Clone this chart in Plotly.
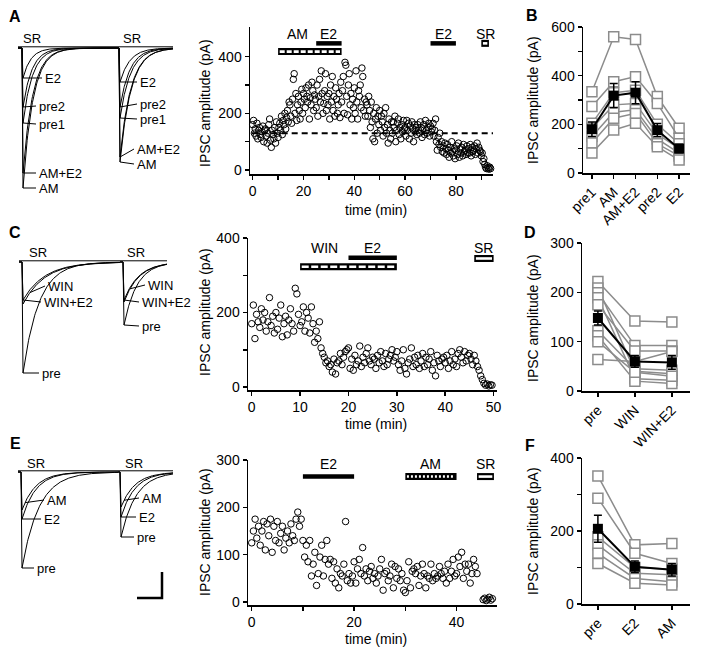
import numpy as np
import plotly.graph_objects as go

W, H = 701, 655
FONT = "Liberation Sans, Arial, Helvetica, sans-serif"

# ---------------- time-course data (pA), 3 samples per minute ----------------
a_step = 1 / 3
a_vals = [
    160, 175, 130, 145, 120, 165, 110, 140, 150, 125, 115, 135, 155, 100, 140,
    145, 120, 95, 130, 160, 180, 105, 80, 140, 125, 110, 150, 95, 170, 130,
    115, 150, 165, 140, 190, 125, 175, 160, 200, 145, 185, 210, 170, 240, 230,
    190, 165, 250, 320, 340, 200, 270, 175, 230, 260, 210, 180, 240, 285, 200,
    270, 250, 220, 290, 260, 240, 300, 180, 255, 230, 310, 280, 210, 265, 250,
    220, 300, 190, 260, 320, 240, 350, 270, 200, 235, 280, 340, 210, 260, 230,
    270, 180, 300, 240, 330, 210, 260, 190, 290, 250, 200, 230, 270, 185, 310,
    240, 280, 330, 200, 380, 370, 260, 195, 300, 340, 230, 270, 180, 250, 220,
    290, 200, 350, 240, 180, 280, 260, 300, 220, 360, 330, 210, 250, 190, 240,
    230, 190, 260, 210, 150, 240, 170, 110, 200, 100, 180, 220, 130, 190, 160,
    210, 140, 190, 170, 120, 200, 150, 220, 130, 160, 95, 180, 140, 110, 170,
    130, 170, 150, 190, 100, 140, 165, 180, 125, 150, 110, 160, 135, 175, 145,
    150, 120, 175, 140, 165, 110, 155, 130, 170, 145, 100, 160, 135, 150, 125,
    160, 140, 130, 170, 150, 115, 145, 160, 125, 175, 140, 130, 150, 165, 120,
    155, 135, 145, 165, 120, 140, 180, 100, 70, 115, 90, 130, 80, 100, 65,
    85, 60, 95, 75, 55, 90, 70, 45, 80, 60, 100, 65, 50, 75, 40,
    70, 85, 55, 95, 45, 75, 60, 80, 50, 90, 65, 70, 55, 85, 60,
    75, 60, 90, 50, 80, 65, 70, 85, 55, 75, 95, 60, 80, 70, 65,
    50, 60, 30, 40, 20, 10, 5, 15, 8, 3, 10, 5,
]
a_baseline = 130

c_step = 1 / 3
c_vals = [
    170, 220, 130, 195, 175, 160, 210, 180, 200, 150, 175, 240, 165, 190, 145,
    200, 155, 185, 220, 135, 170, 190, 140, 180, 210, 170, 150, 265, 250, 195,
    165, 175, 215, 150, 200, 185, 145, 215, 170, 120, 150, 130, 175, 105, 90,
    80, 65, 70, 55, 60, 40, 75, 35, 65, 70, 90, 60, 80, 95, 100,
    105, 50, 75, 45, 85, 60, 70, 110, 55, 80, 65, 90, 105, 70, 60,
    80, 75, 50, 85, 65, 95, 70, 55, 90, 60, 75, 85, 100, 70, 80,
    95, 60, 45, 70, 100, 50, 35, 65, 75, 105, 55, 80, 60, 85, 50,
    70, 90, 55, 80, 60, 75, 95, 45, 65, 30, 85, 70, 55, 75, 80,
    65, 85, 50, 70, 95, 60, 75, 55, 90, 100, 80, 65, 95, 70, 85,
    90, 75, 60, 85, 70, 55, 45, 30, 20, 10, 5, 8, 3, 6, 5,
]

e_step = 1 / 3
e_vals = [
    125, 150, 175, 135, 160, 120, 150, 170, 110, 165, 140, 175, 105, 160, 130,
    170, 125, 145, 160, 110, 135, 150, 125, 165, 140, 130, 175, 190, 160, 175,
    130, 95, 120, 85, 130, 55, 80, 105, 35, 60, 95, 120, 55, 90, 130,
    80, 90, 50, 85, 40, 70, 30, 60, 55, 80, 170, 45, 60, 40, 55,
    85, 40, 70, 90, 60, 115, 55, 70, 45, 65, 75, 50, 60, 40, 55,
    70, 90, 25, 60, 65, 45, 55, 80, 30, 75, 50, 70, 45, 60, 25,
    20, 45, 85, 30, 65, 70, 60, 75, 35, 55, 80, 60, 30, 55, 50,
    80, 45, 60, 50, 55, 75, 60, 50, 65, 40, 80, 50, 65, 90, 55,
    60, 95, 75, 105, 50, 80, 65, 80, 40, 60, 90, 75, 60,
]
e_sr_time = [45.2, 45.5, 45.8, 46.1, 46.4, 46.7, 47.0]
e_sr_vals = [5, 8, 3, 6, 10, 4, 7]

# ---------------- drug application bars (min, pA) ----------------
a_bar_kind = ["hatched", "filled", "filled", "open"]
a_bar_start = [10, 25, 70, 90]
a_bar_end = [35, 35, 80, 93]
a_bar_level = [418, 447, 447, 447]
a_lab_text = ["AM", "E2", "E2", "SR"]
a_lab_x = [17.5, 30, 75, 91.5]
a_lab_y = 480

c_bar_kind = ["hatched", "filled", "open"]
c_bar_start = [10, 20, 46]
c_bar_end = [30, 30, 50]
c_bar_level = [323, 347, 345]
c_lab_text = ["WIN", "E2", "SR"]
c_lab_x = [15, 25, 48]
c_lab_y = 373

e_bar_kind = ["filled", "dotted", "open"]
e_bar_start = [10, 30, 44]
e_bar_end = [20, 40, 47.3]
e_bar_level = [265, 265, 265]
e_lab_text = ["E2", "AM", "SR"]
e_lab_x = [15, 35, 45.6]
e_lab_y = 291

# ---------------- summary data (pA) ----------------
b_cats = ["pre1", "AM", "AM+E2", "pre2", "E2"]
b_cells = [
    [334, 560, 549, 314, 184],
    [273, 375, 396, 286, 143],
    [204, 330, 340, 200, 120],
    [184, 280, 286, 160, 100],
    [150, 250, 260, 140, 82],
    [123, 225, 245, 120, 70],
    [82, 177, 204, 108, 53],
]
b_mean = [180, 318, 330, 176, 100]
b_sem = [30, 50, 45, 27, 17]

d_cats = ["pre", "WIN", "WIN+E2"]
d_cells = [
    [222, 142, 140], [209, 40, 35], [199, 92, 92], [189, 25, 22], [175, 81, 81],
    [122, 45, 42], [112, 20, 15], [100, 38, 30], [64, 60, 80],
]
d_mean = [148, 60, 58]
d_sem = [14, 12, 14]

f_cats = ["pre", "E2", "AM"]
f_cells = [
    [351, 162, 166], [290, 139, 111], [184, 100, 95],
    [162, 84, 80], [139, 70, 61], [111, 57, 52],
]
f_mean = [206, 102, 94]
f_sem = [37, 16, 17]

# ---------------- example IPSC traces (display units) ----------------
a_tr_names = ["AM", "AM+E2", "pre1", "pre2", "E2"]
a_amp_left = [140, 125, 75, 59, 30]
a_tau_left = [10, 10, 9.5, 9, 8]
a_amp_right = [114, 109, 70, 59, 34]
a_tau_right = [11, 11, 10.5, 10, 10]

c_tr_names = ["pre", "WIN+E2", "WIN"]
c_amp_left = [111, 38, 42]
c_tau_left = [16, 22, 22]
c_amp_right = [63, 38, 40]
c_tau_right = [13, 15, 15]

e_tr_names = ["pre", "E2", "AM"]
e_amp_left = [96, 47, 38]
e_tau_left = [17, 14, 14]
e_amp_right = [65, 45, 35]
e_tau_right = [15, 14, 14]

# =====================================================================
fig = go.Figure()


def dom_x(a, b):
    return [a / W, b / W]


def dom_y(top, bottom):
    return [1 - bottom / H, 1 - top / H]


tickfont = dict(family=FONT, size=14, color="black")
ax_common = dict(showline=True, linecolor="black", linewidth=1.5, ticks="outside",
                 ticklen=4, tickwidth=1.5, tickcolor="black", showgrid=False,
                 zeroline=False, tickfont=tickfont, fixedrange=True, mirror=False,
                 automargin=False)
hidden = dict(visible=False, fixedrange=True, showgrid=False, zeroline=False,
              automargin=False)

layout = dict(
    width=W, height=H,
    margin=dict(l=0, r=0, t=0, b=0, pad=0, autoexpand=False),
    paper_bgcolor="white", plot_bgcolor="white", showlegend=False,
    font=dict(family=FONT, size=14, color="black"),
)

# trace panels (1 unit = 1 px)
layout["xaxis"] = dict(hidden, domain=dom_x(0, 182), range=[0, 182], anchor="y")
layout["yaxis"] = dict(hidden, domain=dom_y(0, 200), range=[-152, 48], anchor="x")
layout["xaxis4"] = dict(hidden, domain=dom_x(0, 182), range=[0, 182], anchor="y4")
layout["yaxis4"] = dict(hidden, domain=dom_y(205, 420), range=[-158, 57], anchor="x4")
layout["xaxis7"] = dict(hidden, domain=dom_x(0, 182), range=[0, 182], anchor="y7")
layout["yaxis7"] = dict(hidden, domain=dom_y(430, 640), range=[-168, 42], anchor="x7")

# time-course axes
minor_style = dict(ticks="outside", ticklen=4, tickwidth=1.5, tickcolor="black")
layout["xaxis2"] = dict(ax_common, domain=dom_x(250, 493), range=[-1.06, 94.6],
                        tickvals=[0, 20, 40, 60, 80], anchor="y2",
                        minor=dict(minor_style, tickvals=[10, 30, 50, 70, 90]))
layout["yaxis2"] = dict(ax_common, domain=dom_y(27, 174), range=[-14.1, 504.8],
                        tickvals=[0, 200, 400], anchor="x2",
                        minor=dict(minor_style, tickvals=[100, 300]))
layout["xaxis5"] = dict(ax_common, domain=dom_x(248, 497), range=[-0.77, 50.7],
                        tickvals=[0, 10, 20, 30, 40, 50], anchor="y5")
layout["yaxis5"] = dict(ax_common, domain=dom_y(238, 390), range=[-8, 400],
                        tickvals=[0, 200, 400], anchor="x5",
                        minor=dict(minor_style, tickvals=[100, 300]))
layout["xaxis8"] = dict(ax_common, domain=dom_x(248, 497), range=[-0.72, 47.9],
                        tickvals=[0, 20, 40], anchor="y8",
                        minor=dict(minor_style, tickvals=[10, 30]))
layout["yaxis8"] = dict(ax_common, domain=dom_y(460, 605), range=[-6.3, 300],
                        tickvals=[0, 100, 200, 300], anchor="x8")

# summary axes
layout["xaxis3"] = dict(ax_common, domain=dom_x(583, 690), range=[-0.41, 4.5],
                        tickvals=list(range(len(b_cats))), ticktext=b_cats,
                        tickangle=-45, anchor="y3")
layout["yaxis3"] = dict(ax_common, domain=dom_y(27, 173), range=[0, 600],
                        tickvals=[0, 200, 400, 600], anchor="x3",
                        minor=dict(minor_style, tickvals=[100, 300, 500]))
layout["xaxis6"] = dict(ax_common, domain=dom_x(582, 690), range=[-0.43, 2.49],
                        tickvals=list(range(len(d_cats))), ticktext=d_cats,
                        tickangle=-45, anchor="y6")
layout["yaxis6"] = dict(ax_common, domain=dom_y(243, 391), range=[0, 300],
                        tickvals=[0, 100, 200, 300], anchor="x6")
layout["xaxis9"] = dict(ax_common, domain=dom_x(582, 690), range=[-0.43, 2.49],
                        tickvals=list(range(len(f_cats))), ticktext=f_cats,
                        tickangle=-45, anchor="y9")
layout["yaxis9"] = dict(ax_common, domain=dom_y(458, 604), range=[0, 400],
                        tickvals=[0, 200, 400], anchor="x9",
                        minor=dict(minor_style, tickvals=[100, 300]))

annotations = []


def ann(text, x, y, xref="paper", yref="paper", size=14, bold=False, angle=0,
        xanchor="center", yanchor="middle"):
    if xref == "paper":
        x = x / W
    if yref == "paper":
        y = 1 - y / H
    annotations.append(dict(
        text=("<b>%s</b>" % text) if bold else text, x=x, y=y, xref=xref, yref=yref,
        showarrow=False, textangle=angle, xanchor=xanchor, yanchor=yanchor,
        font=dict(family=FONT, size=size, color="black")))


# ---------------- time-course scatter ----------------
def add_timecourse(vals, step, xa, ya, extra_t=None, extra_v=None):
    t = list(np.arange(len(vals)) * step)
    v = list(vals)
    if extra_t is not None:
        t += list(extra_t)
        v += list(extra_v)
    fig.add_trace(go.Scatter(
        x=t, y=v, mode="markers", xaxis=xa, yaxis=ya, cliponaxis=False,
        marker=dict(symbol="circle-open", size=6.5, color="black", line=dict(width=1)),
        hoverinfo="skip"))


add_timecourse(a_vals, a_step, "x2", "y2")
add_timecourse(c_vals, c_step, "x5", "y5")
add_timecourse(e_vals, e_step, "x8", "y8", e_sr_time, e_sr_vals)

# dashed baseline in A
fig.add_trace(go.Scatter(x=[-0.4, 95], y=[a_baseline, a_baseline], mode="lines",
                         xaxis="x2", yaxis="y2", cliponaxis=False,
                         line=dict(color="black", width=2, dash="6px,4px"),
                         hoverinfo="skip"))


def add_bars(kinds, starts, ends, levels, xa, ya, px_per_unit, hatch):
    inset = 1.6 / px_per_unit
    for k, x0, x1, y in zip(kinds, starts, ends, levels):
        if k == "filled":
            fig.add_trace(go.Scatter(x=[x0, x1], y=[y, y], mode="lines", xaxis=xa, yaxis=ya,
                                     line=dict(color="black", width=4.5), hoverinfo="skip"))
        else:
            fig.add_trace(go.Scatter(x=[x0, x1], y=[y, y], mode="lines", xaxis=xa, yaxis=ya,
                                     line=dict(color="black", width=7), hoverinfo="skip"))
            dash = "solid" if k == "open" else hatch
            fig.add_trace(go.Scatter(x=[x0 + inset, x1 - inset], y=[y, y], mode="lines",
                                     xaxis=xa, yaxis=ya,
                                     line=dict(color="white", width=2.6, dash=dash),
                                     hoverinfo="skip"))


add_bars(a_bar_kind, a_bar_start, a_bar_end, a_bar_level, "x2", "y2", 2.54, "5px,2px")
add_bars(c_bar_kind, c_bar_start, c_bar_end, c_bar_level, "x5", "y5", 4.83, "7px,2.5px")
add_bars(e_bar_kind, e_bar_start, e_bar_end, e_bar_level, "x8", "y8", 5.12, "2px,2px")

for txt, x in zip(a_lab_text, a_lab_x):
    ann(txt, x, a_lab_y, xref="x2", yref="y2")
for txt, x in zip(c_lab_text, c_lab_x):
    ann(txt, x, c_lab_y, xref="x5", yref="y5")
for txt, x in zip(e_lab_text, e_lab_x):
    ann(txt, x, e_lab_y, xref="x8", yref="y8")


# ---------------- summary plots ----------------
def add_summary(cells, mean, sem, xa, ya):
    xs = list(range(len(mean)))
    for cell in cells:
        fig.add_trace(go.Scatter(
            x=xs, y=cell, mode="lines+markers", xaxis=xa, yaxis=ya, cliponaxis=False,
            line=dict(color="#8c8c8c", width=1.5),
            marker=dict(symbol="square", size=10, color="white",
                        line=dict(color="#8c8c8c", width=1.5)),
            hoverinfo="skip"))
    fig.add_trace(go.Scatter(
        x=xs, y=mean, mode="lines+markers", xaxis=xa, yaxis=ya, cliponaxis=False,
        line=dict(color="black", width=2),
        marker=dict(symbol="square", size=10, color="black"),
        error_y=dict(type="data", array=sem, color="black", thickness=1.5, width=4),
        hoverinfo="skip"))


add_summary(b_cells, b_mean, b_sem, "x3", "y3")
add_summary(d_cells, d_mean, d_sem, "x6", "y6")
add_summary(f_cells, f_mean, f_sem, "x9", "y9")


# ---------------- example traces ----------------
def ipsc_curve(t_start, t_rise, t_end, amp, tau, n=160):
    t_dec = np.linspace(t_rise + 1, t_end, n)
    y_dec = -amp * np.exp(-(t_dec - t_rise - 1) / tau)
    return np.concatenate([[t_start, t_rise], t_dec]), np.concatenate([[0, 0], y_dec])


def add_trace_set(amps, taus, t_start, t_rise, t_end, xa, ya):
    fig.add_trace(go.Scatter(x=[t_start, t_end], y=[1.2, 1.2], mode="lines", xaxis=xa,
                             yaxis=ya, line=dict(color="black", width=1), hoverinfo="skip"))
    for amp, tau in zip(amps, taus):
        t, y = ipsc_curve(t_start, t_rise, t_end, amp, tau)
        fig.add_trace(go.Scatter(x=t, y=y, mode="lines", xaxis=xa, yaxis=ya,
                                 line=dict(color="black", width=1), hoverinfo="skip"))


def add_labels(names, amps, taus, t_rise, lab_x, lab_y, lead_x0, xa, ya, xr, yr):
    for name, amp, tau, lx, ly, x0 in zip(names, amps, taus, lab_x, lab_y, lead_x0):
        y0 = -amp * np.exp(-max(x0 - t_rise - 1, 0) / tau)
        fig.add_trace(go.Scatter(x=[x0, lx - 1], y=[y0, ly], mode="lines", xaxis=xa,
                                 yaxis=ya, line=dict(color="black", width=1),
                                 hoverinfo="skip"))
        ann(name, lx, ly, xref=xr, yref=yr, size=13, xanchor="left")


# A
add_trace_set(a_amp_left, a_tau_left, 18, 22, 117, "x", "y")
add_trace_set(a_amp_right, a_tau_right, 117, 119, 173, "x", "y")
add_labels(a_tr_names, a_amp_left, a_tau_left, 22, [37, 37, 37, 37, 43],
           [-140, -125, -76, -58, -30], [23] * 5, "x", "y", "x", "y")
add_labels(a_tr_names, a_amp_right, a_tau_right, 119, [135, 135, 138, 138, 138],
           [-116, -101, -71, -56, -34], [120] * 5, "x", "y", "x", "y")
ann("SR", 32, 10, xref="x", yref="y", size=13)
ann("SR", 132, 10, xref="x", yref="y", size=13)

# C
add_trace_set(c_amp_left, c_tau_left, 19, 22, 120, "x4", "y4")
add_trace_set(c_amp_right, c_tau_right, 120, 123, 167, "x4", "y4")
add_labels(c_tr_names, c_amp_left, c_tau_left, 22, [40, 42, 46], [-111, -40, -24],
           [23, 23, 30], "x4", "y4", "x4", "y4")
add_labels(c_tr_names, c_amp_right, c_tau_right, 123, [140, 140, 146], [-64, -40, -23],
           [124, 124, 130], "x4", "y4", "x4", "y4")
ann("SR", 38, 9, xref="x4", yref="y4", size=13)
ann("SR", 136, 9, xref="x4", yref="y4", size=13)

# E
add_trace_set(e_amp_left, e_tau_left, 18, 21, 118, "x7", "y7")
add_trace_set(e_amp_right, e_tau_right, 118, 120, 173, "x7", "y7")
add_labels(e_tr_names, e_amp_left, e_tau_left, 21, [35, 42, 45], [-96, -47, -28],
           [22, 22, 25], "x7", "y7", "x7", "y7")
add_labels(e_tr_names, e_amp_right, e_tau_right, 120, [135, 137, 140], [-65, -45, -26],
           [121, 121, 124], "x7", "y7", "x7", "y7")
ann("SR", 36, 9, xref="x7", yref="y7", size=13)
ann("SR", 134, 9, xref="x7", yref="y7", size=13)

# scale bar
fig.add_trace(go.Scatter(x=[137, 162, 162], y=[-126, -126, -100], mode="lines",
                         xaxis="x7", yaxis="y7", line=dict(color="black", width=2.5),
                         hoverinfo="skip"))

# ---------------- titles & panel letters ----------------
for yc in [103, 312, 532]:
    ann("IPSC amplitude (pA)", 205, yc, angle=-90)
for yc in [100, 318, 531]:
    ann("IPSC amplitude (pA)", 533, yc, angle=-90)
for yc in [210, 424, 639]:
    ann("time (min)", 376, yc)
for letter, x, y in [("A", 15, 17), ("C", 15, 232), ("E", 15, 444),
                     ("B", 532, 16), ("D", 530, 232), ("F", 530, 445)]:
    ann(letter, x, y, size=16, bold=True)

layout["annotations"] = annotations
fig.update_layout(**layout)
fig.write_html("out.html",
               config={"displayModeBar": False, "staticPlot": True},
               post_script="document.body.style.margin='0px';"
                           "document.body.style.padding='0px';")
